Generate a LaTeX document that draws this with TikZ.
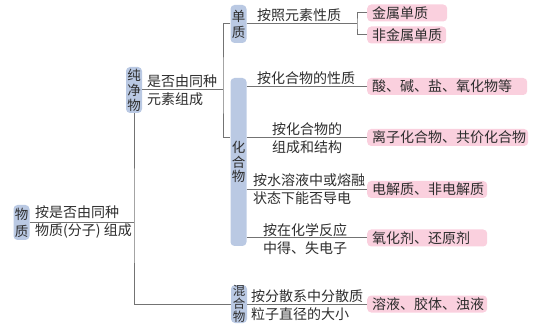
\documentclass[tikz,border=0pt]{standalone}
\usepackage{fontspec}
\setmainfont{Noto Sans CJK SC}
\definecolor{bluefill}{RGB}{186,201,227}
\definecolor{pinkfill}{RGB}{250,208,222}
\definecolor{txt}{RGB}{45,45,45}
\definecolor{linegray}{RGB}{115,115,115}
\begin{document}
\begin{tikzpicture}[x=1pt,y=-1pt,
  lbl/.style={font=\fontsize{14}{18}\selectfont, text=txt, inner sep=0pt, align=left, anchor=west},
  bbox/.style={fill=bluefill, rounded corners=4pt, inner sep=0pt, align=center, text=txt, minimum width=16pt},
  pbox/.style={fill=pinkfill, rounded corners=4pt, inner xsep=5pt, inner ysep=0pt, anchor=west,
    font=\fontsize{14}{16}\selectfont, text=txt, align=left, minimum height=17pt},
  conn/.style={draw=linegray, line width=1pt}]
\useasboundingbox (0,0) rectangle (556,328);
% blue category boxes
\node[bbox, minimum height=35pt, font=\fontsize{13.5}{17}\selectfont] (wz) at (21.5,222.5) {物\\质};
\node[bbox, minimum height=46pt, font=\fontsize{13.5}{15}\selectfont] (cjw) at (134,90) {纯\\净\\物};
\node[bbox, minimum height=38pt, font=\fontsize{13.5}{16}\selectfont] (dz) at (238.5,24) {单\\质};
\node[bbox, minimum height=168pt, font=\fontsize{13.5}{14.5}\selectfont] (hhw) at (238.5,162) {化\\合\\物};
\node[bbox, minimum height=38pt, font=\fontsize{12.5}{13}\selectfont] (hun) at (239,304) {混\\合\\物};
% pink result boxes
\node[pbox, text width=70pt] (p1) at (367,13) {金属单质};
\node[pbox, text width=69pt] (p2) at (367,35) {非金属单质};
\node[pbox, text width=150pt] (p3) at (367,86.5) {酸、碱、盐、氧化物等};
\node[pbox, text width=151pt] (p4) at (367,137.5) {离子化合物、共价化合物};
\node[pbox, text width=110pt] (p5) at (367,189.5) {电解质、非电解质};
\node[pbox, text width=110pt] (p6) at (367,238) {氧化剂、还原剂};
\node[pbox, text width=110pt] (p7) at (367,304) {溶液、胶体、浊液};
% junction coordinates
\coordinate (j1) at (134,222.5);
\coordinate (j2) at (223,90);
\coordinate (j3) at (223,138);
\coordinate (bk) at (357,24);
% connectors
\draw[conn] (wz.east) -- (j1);
\draw[conn] (cjw.south) -- (j1) |- (hun.west);
\draw[conn] (cjw.east |- j2) -- (j2);
\draw[conn] (dz.west) -| (j2) |- (hhw.west |- j3);
\draw[conn] (dz.east) -- (bk);
\draw[conn] (p1.west) -| (bk) |- (p2.west);
\draw[conn] (hhw.east |- p3.west) -- (p3.west);
\draw[conn] (hhw.east |- p4.west) -- (p4.west);
\draw[conn] (hhw.east |- p5.west) -- (p5.west);
\draw[conn] (hhw.east |- p6.west) -- (p6.west);
\draw[conn] (hun.east) -- (p7.west);
% labels
\node[lbl] (l0) at (35,222) {按是否由同种\\物质(分子) 组成};
\node[lbl] (l1) at (147,90) {是否由同种\\元素组成};
\node[lbl] (l2) at (257,15) {按照元素性质};
\node[lbl] (l3) at (257,78) {按化合物的性质};
\node[lbl] (l4) at (272,138) {按化合物的\\组成和结构};
\node[lbl] (l5) at (253,189) {按水溶液中或熔融\\状态下能否导电};
\node[lbl] (l6) at (263,239) {按在化学反应\\中得、失电子};
\node[lbl] (l7) at (251,305) {按分散系中分散质\\粒子直径的大小};
\end{tikzpicture}
\end{document}
